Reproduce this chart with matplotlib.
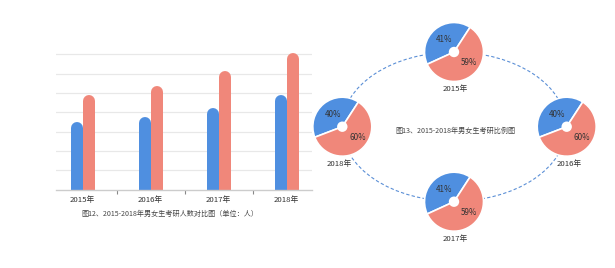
import matplotlib
matplotlib.use("Agg")
import numpy as np
import matplotlib.pyplot as plt
from matplotlib.patches import Ellipse, Circle

plt.rcParams['font.family'] = ['Noto Sans CJK SC', 'DejaVu Sans']

# ---------------- data ----------------
years = ['2015年', '2016年', '2017年', '2018年']
male = [35.1, 37.7, 42.4, 48.8]      # bar heights (grid step = 10)
female = [48.9, 53.6, 61.5, 70.5]
male_pct = [41, 40, 41, 40]
female_pct = [59, 60, 59, 60]
pie_years = ['2015年', '2016年', '2017年', '2018年']
caption_bar = '图12、2015-2018年男女生考研人数对比图（单位：人）'
caption_pie = '图13、2015-2018年男女生考研比例图'

BLUE = '#4f8fe0'
RED = '#f0877a'
TXT = '#333333'

W, H = 615, 268
fig = plt.figure(figsize=(W / 100, H / 100), dpi=100)
fig.patch.set_facecolor('white')

# ---------------- bar chart ----------------
ax_left, ax_right = 56, 312
base_y, top_grid_y = 189.7, 54.3
ymax = 75
px_per_unit = (base_y - top_grid_y) / 70.0
ax_h = ymax * px_per_unit
ax = fig.add_axes([ax_left / W, (H - base_y) / H, (ax_right - ax_left) / W, ax_h / H])
band_px = 68.0
center0 = 82.5
ax.set_xlim((ax_left - center0) / band_px, (ax_right - center0) / band_px)
ax.set_ylim(0, ymax)

for y in range(10, 80, 10):
    ax.axhline(y, color='#e8e8e8', lw=0.9, zorder=0)

bar_px = 12.0
off = 6.0 / band_px
r_data = (bar_px / 2) / px_per_unit
lw_pt = bar_px * 0.72
for i in range(len(years)):
    ax.plot([i - off, i - off], [-10, male[i] - r_data], color=BLUE, lw=lw_pt,
            solid_capstyle='round', zorder=2)
    ax.plot([i + off, i + off], [-10, female[i] - r_data], color=RED, lw=lw_pt,
            solid_capstyle='round', zorder=2)

for s in ['top', 'right', 'left']:
    ax.spines[s].set_visible(False)
ax.spines['bottom'].set_color('#cccccc')
ax.spines['bottom'].set_linewidth(1.0)
ax.spines['bottom'].set_zorder(3)
ax.set_yticks([])
ax.set_xticks(range(len(years)))
ax.set_xticklabels(years, fontsize=5.6, color=TXT)
ax.tick_params(axis='x', which='major', length=0, pad=4.5)
ax.set_xticks([0.5, 1.5, 2.5], minor=True)
ax.tick_params(axis='x', which='minor', length=3, color='#888888', width=0.8)
ax.patch.set_alpha(0)

fig.text(170 / W, (H - 214.3) / H, caption_bar, fontsize=5.1, color='#444444',
         ha='center', va='center')

# ---------------- pies on ellipse ----------------
pax = fig.add_axes([0, 0, 1, 1])
pax.patch.set_alpha(0)
ecx, ecy = 454.0, H - 126.7
ea, eb = 112.3, 74.5
pax.add_patch(Ellipse((ecx, ecy), 2 * ea, 2 * eb, fill=False, edgecolor='#5b8fd6',
                      lw=0.8, ls=(0, (3, 2)), zorder=1))

centers = [(454.0, H - 52.0), (566.7, H - 126.7), (454.0, H - 201.7), (342.3, H - 126.7)]
label_dx = [1, 3, 1, -3]
R = 29.5
# label placement (angle deg, fraction of radius) for male / female percentages
lab_pos = [(128, 0.52), (-36, 0.63)]
for k, (cx, cy) in enumerate(centers):
    wedges, texts, autotexts = pax.pie(
        [male_pct[k], female_pct[k]], colors=[BLUE, RED], startangle=57,
        center=(cx, cy), radius=R, frame=True,
        autopct=lambda p: f'{p:.0f}%', pctdistance=0.58,
        wedgeprops=dict(edgecolor='white', linewidth=1.2),
        textprops=dict(fontsize=5.8, color=TXT))
    for w in wedges:
        w.set_zorder(2)
    for t, (ang, fr) in zip(autotexts, lab_pos):
        t.set_position((cx + fr * R * np.cos(np.radians(ang)),
                        cy + fr * R * np.sin(np.radians(ang))))
        t.set_zorder(4)
    pax.add_patch(Circle((cx, cy), 5.2, facecolor='white', edgecolor='none', zorder=3))
    pax.text(cx + label_dx[k], cy - 37.3, pie_years[k], fontsize=5.6, color=TXT,
             ha='center', va='center')

pax.text(455.7, H - 131, caption_pie, fontsize=5.1, color='#444444', ha='center', va='center')
pax.set_xlim(0, W)
pax.set_ylim(0, H)
pax.set_aspect('auto')
pax.axis('off')

fig.savefig('out.png', dpi=100, facecolor='white')
